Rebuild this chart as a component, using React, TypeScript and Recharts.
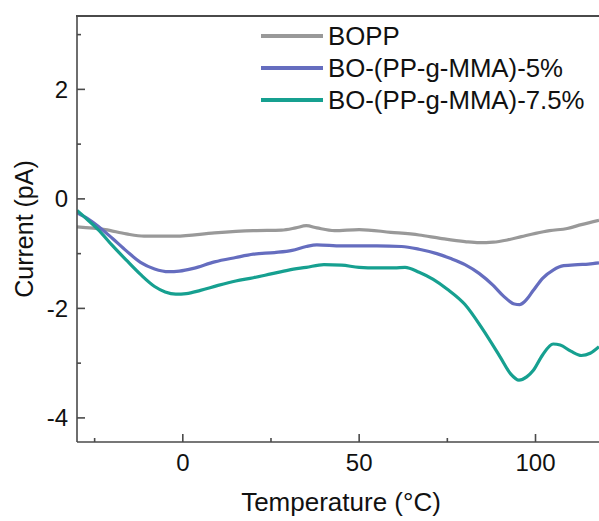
import React from 'react';
import { LineChart, Line, XAxis, YAxis, Legend, Label } from 'recharts';

// ---- data ----
const boppT = [-30, -22, -16, -11, -2, 9, 20, 28, 32, 35, 38, 43, 50, 59, 67, 73, 80, 84, 88, 92, 96, 100, 104, 109, 113, 118];
const boppV = [-0.51, -0.56, -0.64, -0.68, -0.68, -0.62, -0.58, -0.57, -0.53, -0.49, -0.53, -0.58, -0.56, -0.61, -0.66, -0.72, -0.78, -0.80, -0.79, -0.75, -0.69, -0.63, -0.58, -0.54, -0.47, -0.39];

const mma5T = [-30, -27, -24, -20, -16, -12, -8, -4, -1, 3, 9, 15, 20, 26, 31, 35, 38, 45, 55, 62, 67, 72, 76, 80, 84, 88, 91, 94, 95.5, 97, 99.4, 102, 105, 108, 112, 115, 118];
const mma5V = [-0.25, -0.36, -0.50, -0.72, -0.95, -1.16, -1.28, -1.33, -1.32, -1.27, -1.15, -1.07, -1.01, -0.98, -0.94, -0.87, -0.84, -0.86, -0.86, -0.87, -0.92, -1.0, -1.09, -1.20, -1.36, -1.58, -1.78, -1.92, -1.93, -1.87, -1.67, -1.45, -1.30, -1.22, -1.20, -1.19, -1.17];

const mma75T = [-30, -27, -24, -20, -16, -12, -8, -5, -2, 1, 5, 10, 15, 20, 25, 30, 35, 40, 45, 50, 55, 60, 63, 67, 71, 75, 80, 85, 90, 93, 95.3, 97.5, 99.4, 102, 105, 107, 110, 113, 115.5, 118];
const mma75V = [-0.21, -0.38, -0.56, -0.85, -1.12, -1.38, -1.60, -1.70, -1.74, -1.73, -1.67, -1.58, -1.50, -1.44, -1.37, -1.30, -1.25, -1.20, -1.21, -1.25, -1.26, -1.26, -1.25, -1.34, -1.47, -1.65, -1.93, -2.38, -2.89, -3.20, -3.31, -3.25, -3.13, -2.85, -2.65, -2.67, -2.78, -2.86, -2.82, -2.70];

const seriesNames = ['BOPP', 'BO-(PP-g-MMA)-5%', 'BO-(PP-g-MMA)-7.5%'];
const seriesColors = ['#999999', '#656dbf', '#16a090'];

const xTicks = [-25, 0, 25, 50, 75, 100];
const xLabeled = [0, 50, 100];
const yTicks = [-4, -3, -2, -1, 0, 1, 2, 3];
const yLabeled = [-4, -2, 0, 2];
const xDomain = [-30, 118];
const yDomain = [-4.44, 3.34];

const toRows = (ts: number[], vs: number[]) => ts.map((t, i) => ({ t, v: vs[i] }));
const boppData = toRows(boppT, boppV);
const mma5Data = toRows(mma5T, mma5V);
const mma75Data = toRows(mma75T, mma75V);

const W = 599;
const H = 521;
const M = { top: 16, right: 0, bottom: 0, left: 17 };
const Y_AXIS_W = 60;
const FONT = '"Liberation Sans", Arial, sans-serif';
const AXIS = '#4a4a4a';
const TEXT = '#111111';

const YTick = (props: any) => {
  const { x, y, payload } = props;
  const major = yLabeled.includes(payload.value);
  return (
    <g>
      <line x1={x} x2={x + (major ? 8 : 4)} y1={y} y2={y} stroke={AXIS} strokeWidth={1.6} />
      {major && (
        <text x={x - 9} y={y + 8.5} textAnchor="end" fontSize={24} fontFamily={FONT} fill={TEXT}>
          {payload.value}
        </text>
      )}
    </g>
  );
};

const XTick = (props: any) => {
  const { x, y, payload } = props;
  const major = xLabeled.includes(payload.value);
  return (
    <g>
      <line x1={x} x2={x} y1={y} y2={y - (major ? 8 : 4)} stroke={AXIS} strokeWidth={1.6} />
      {major && (
        <text x={x} y={y + 29} textAnchor="middle" fontSize={24} fontFamily={FONT} fill={TEXT}>
          {payload.value}
        </text>
      )}
    </g>
  );
};

const YTitle = (p: any) => {
  const vb = p.viewBox || { x: 77, y: 16, width: 522, height: 426 };
  const cy = vb.y + vb.height / 2;
  return (
    <text x={33} y={cy} transform={`rotate(-90 33 ${cy})`} textAnchor="middle" fontSize={25} fontFamily={FONT} fill={TEXT}>
      Current (pA)
    </text>
  );
};

const XTitle = (p: any) => (
  <text x={341} y={511} textAnchor="middle" fontSize={26} fontFamily={FONT} fill={TEXT}>
    Temperature (°C)
  </text>
);

const LegendContent = (props: any) => {
  const items = (props.payload || []).filter((p: any) => seriesNames.includes(p.value));
  items.sort((a: any, b: any) => seriesNames.indexOf(a.value) - seriesNames.indexOf(b.value));
  return (
    <div style={{ fontFamily: FONT }}>
      {items.map((p: any) => (
        <div key={p.value} style={{ display: 'flex', alignItems: 'center', height: 32 }}>
          <div style={{ width: 62, height: 3.5, background: p.color }} />
          <span style={{ marginLeft: 5, fontSize: 25.8, lineHeight: '32px', color: TEXT, whiteSpace: 'nowrap' }}>{p.value}</span>
        </div>
      ))}
    </div>
  );
};

export default function App() {
  const plotLeft = M.left + Y_AXIS_W;
  return (
    <div style={{ position: 'absolute', left: 0, top: 0, width: W, height: H, background: '#fff' }}>
      <LineChart width={W} height={H} margin={M}>
        <XAxis
          type="number"
          dataKey="t"
          domain={xDomain}
          allowDataOverflow
          ticks={xTicks}
          interval={0}
          height={79}
          tickSize={0}
          tickMargin={0}
          tickLine={false}
          tick={<XTick />}
          axisLine={{ stroke: AXIS, strokeWidth: 1.6 }}
        >
          <Label content={<XTitle />} />
        </XAxis>
        <YAxis
          type="number"
          domain={yDomain}
          allowDataOverflow
          ticks={yTicks}
          interval={0}
          width={Y_AXIS_W}
          tickSize={0}
          tickMargin={0}
          tickLine={false}
          tick={<YTick />}
          axisLine={{ stroke: AXIS, strokeWidth: 1.6 }}
        >
          <Label content={<YTitle />} />
        </YAxis>
        <Line data={boppData} dataKey="v" name={seriesNames[0]} stroke={seriesColors[0]} strokeWidth={3.2} dot={false} type="monotone" isAnimationActive={false} />
        <Line data={mma5Data} dataKey="v" name={seriesNames[1]} stroke={seriesColors[1]} strokeWidth={3.2} dot={false} type="monotone" isAnimationActive={false} />
        <Line data={mma75Data} dataKey="v" name={seriesNames[2]} stroke={seriesColors[2]} strokeWidth={3.2} dot={false} type="monotone" isAnimationActive={false} />
        <Legend
          layout="vertical"
          align="center"
          verticalAlign="middle"
          content={<LegendContent />}
          wrapperStyle={{ position: 'absolute', left: 261, top: 20, width: 338, height: 96 }}
        />
      </LineChart>
      {/* top frame of the plot box */}
      <div
        style={{
          position: 'absolute',
          left: plotLeft - 0.8,
          top: M.top - 0.8,
          width: W - plotLeft + 0.8,
          height: 1.6,
          background: AXIS,
          pointerEvents: 'none',
        }}
      />
    </div>
  );
}
